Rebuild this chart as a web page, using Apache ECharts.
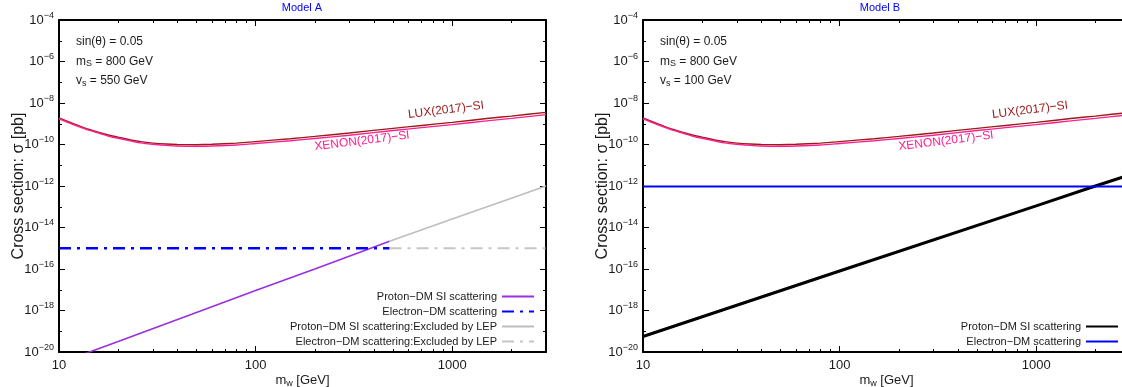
<!DOCTYPE html>
<html>
<head>
<meta charset="utf-8">
<script src="https://cdn.jsdelivr.net/npm/echarts@6/dist/echarts.min.js"></script>
<style>
  html, body { margin: 0; padding: 0; background: #fff; }
  #chart { width: 1122px; height: 387px; }
</style>
</head>
<body>
<div id="chart"></div>
<script>
const FONT = '"Liberation Sans", Arial, Helvetica, sans-serif';

// ---- direct-detection limits, mass in GeV, cross section in pb ----
const limitMass = [10, 11, 12, 13, 14, 16, 18, 20, 23, 26, 30, 35, 40, 50, 60, 80, 100, 150, 200, 300, 500, 700, 1000, 1500, 2000, 3000];
const luxSI   = [1.9e-9, 1.32e-9, 9.5e-10, 7.2e-10, 5.6e-10, 3.8e-10, 2.8e-10, 2.24e-10, 1.7e-10, 1.38e-10, 1.17e-10, 1.05e-10, 1.0e-10, 9.8e-11, 1.02e-10, 1.17e-10, 1.38e-10, 1.9e-10, 2.45e-10, 3.6e-10, 6.0e-10, 8.3e-10, 1.17e-9, 1.78e-9, 2.34e-9, 3.55e-9];
const xenonSI = [1.74e-9, 1.2e-9, 8.7e-10, 6.6e-10, 5.1e-10, 3.5e-10, 2.5e-10, 2.0e-10, 1.51e-10, 1.2e-10, 1.02e-10, 9.1e-11, 8.5e-11, 8.3e-11, 8.5e-11, 9.5e-11, 1.12e-10, 1.51e-10, 1.95e-10, 2.8e-10, 4.7e-10, 6.5e-10, 9.1e-10, 1.38e-9, 1.82e-9, 2.75e-9];

// ---- Model A ----
const protonMassA    = [10, 20, 50, 100, 200, 480];
const protonA        = [2.9e-21, 3.2e-20, 7.9e-19, 9.1e-18, 1.0e-16, 2.2e-15];
const protonMassA_LEP = [480, 1000, 2000, 3000];
const protonA_LEP     = [2.2e-15, 2.6e-14, 2.6e-13, 1.0e-12];
const electronMassA     = [10, 480];
const electronA         = [1.0e-15, 1.0e-15];
const electronMassA_LEP = [480, 3000];
const electronA_LEP     = [1.0e-15, 1.0e-15];

// ---- Model B ----
const protonMassB   = [10, 100, 1000, 2000, 3000];
const protonB       = [5.6e-20, 8.0e-17, 1.1e-13, 1.0e-12, 3.5e-12];
const electronMassB = [10, 3000];
const electronB     = [9.5e-13, 9.5e-13];

// ---- axes ----
const massRange   = [10, 3000];
const sigmaRange  = [1e-20, 1e-4];
const xMajorTicks = [10, 100, 1000];
const xTickLabels = ['10', '100', '1000'];
const xMinorTicks = [20, 30, 40, 50, 60, 70, 80, 90, 200, 300, 400, 500, 600, 700, 800, 900, 2000, 3000];

const panelTitles = ['Model A', 'Model B'];
const panelInfo = [
  ['sin(θ) = 0.05', 'm{s|S} = 800 GeV', 'v{s|s} = 550 GeV'],
  ['sin(θ) = 0.05', 'm{s|S} = 800 GeV', 'v{s|s} = 100 GeV']
];

const L = Math.log10;
const toXY = (mass, sigma) => mass.map((m, i) => [L(m), L(sigma[i])]);

const gridBoxes = [
  { left: 59, top: 20, width: 487, height: 332 },
  { left: 643, top: 20, width: 487, height: 332 }
];
const titleX = [302, 880];

const black = '#000';
const textCol = '#1a1a1a';

const xAxes = [];
const yAxes = [];
gridBoxes.forEach((g, gi) => {
  const base = {
    gridIndex: gi, type: 'value', min: L(massRange[0]), max: L(massRange[1]),
    splitLine: { show: false }
  };
  const majorTick = { show: true, inside: true, length: 6, customValues: xMajorTicks.map(L), lineStyle: { color: black, width: 1 } };
  const minorTick = { show: true, inside: true, length: 3, customValues: xMinorTicks.map(L), lineStyle: { color: black, width: 1 } };
  // bottom: major ticks, labels and axis name
  xAxes.push(Object.assign({}, base, {
    position: 'bottom',
    axisLine: { show: true, onZero: false, lineStyle: { color: black, width: 2 } },
    axisTick: majorTick,
    axisLabel: {
      customValues: xMajorTicks.map(L), margin: 7, fontSize: 13, color: textCol, fontFamily: FONT,
      formatter: v => xTickLabels[xMajorTicks.findIndex(t => Math.abs(L(t) - v) < 1e-6)]
    },
    name: '{b|m}{s|w}{b| [GeV]}', nameLocation: 'middle', nameGap: 20, nameMoveOverlap: false,
    nameTextStyle: {
      fontFamily: FONT, color: textCol,
      rich: {
        b: { fontSize: 13, fontFamily: FONT, color: textCol, lineHeight: 16 },
        s: { fontSize: 9, fontFamily: FONT, color: textCol, lineHeight: 8, verticalAlign: 'bottom' }
      }
    }
  }));
  // bottom: minor ticks
  xAxes.push(Object.assign({}, base, {
    position: 'bottom', axisLine: { show: false, onZero: false }, axisTick: minorTick, axisLabel: { show: false }
  }));
  // top mirror
  xAxes.push(Object.assign({}, base, {
    position: 'top', axisLine: { show: true, onZero: false, lineStyle: { color: black, width: 2 } },
    axisTick: majorTick, axisLabel: { show: false }
  }));
  xAxes.push(Object.assign({}, base, {
    position: 'top', axisLine: { show: false, onZero: false }, axisTick: minorTick, axisLabel: { show: false }
  }));

  const ybase = {
    gridIndex: gi, type: 'value', min: L(sigmaRange[0]), max: L(sigmaRange[1]), interval: 2,
    splitLine: { show: false },
    axisLine: { show: true, onZero: false, lineStyle: { color: black, width: 2 } },
    axisTick: { show: true, inside: true, length: 6, lineStyle: { color: black, width: 1 } },
    minorTick: { show: true, splitNumber: 2, length: 3, lineStyle: { color: black, width: 1 } },
    minorSplitLine: { show: false }
  };
  yAxes.push(Object.assign({}, ybase, {
    position: 'left',
    axisLabel: {
      margin: 5, color: textCol, fontFamily: FONT,
      formatter: v => '{b|10}{p|−' + Math.abs(Math.round(v)) + '}',
      rich: {
        b: { fontSize: 13, fontFamily: FONT, color: textCol, lineHeight: 18 },
        p: { fontSize: 9, fontFamily: FONT, color: textCol, lineHeight: 9, verticalAlign: 'top' }
      }
    },
    name: 'Cross section: σ [pb]', nameLocation: 'middle', nameGap: 32, nameRotate: 90, nameMoveOverlap: false,
    nameTextStyle: { fontSize: 16, fontFamily: FONT, color: textCol }
  }));
  yAxes.push(Object.assign({}, ybase, { position: 'right', axisLabel: { show: false } }));
});

const lineSeries = (name, gi, mass, sigma, style, extra) => Object.assign({
  name, type: 'line', xAxisIndex: gi * 4, yAxisIndex: gi * 2,
  data: toXY(mass, sigma), symbol: 'none', showSymbol: false, clip: true, silent: true,
  lineStyle: style, itemStyle: { color: style.color }
}, extra || {});

const luxColor = '#9b1b1b';
const xenonColor = '#ff1f8f';
const series = [];
[0, 1].forEach(gi => {
  series.push(lineSeries('LUX(2017)−SI' + (gi ? ' B' : ''), gi, limitMass, luxSI,
    { color: luxColor, width: 1.4 }, { smooth: 0.2 }));
  series.push(lineSeries('XENON(2017)−SI' + (gi ? ' B' : ''), gi, limitMass, xenonSI,
    { color: xenonColor, width: 1.4 }, { smooth: 0.2 }));
});

// Model A
series.push(lineSeries('Proton−DM SI scattering', 0, protonMassA, protonA,
  { color: '#9a2ee0', width: 1.6 }));
series.push(lineSeries('Electron−DM scattering', 0, electronMassA, electronA,
  { color: '#0000ff', width: 2.6, type: [12, 6, 3, 6] }));
series.push(lineSeries('Proton−DM SI scattering:Excluded by LEP', 0, protonMassA_LEP, protonA_LEP,
  { color: '#bdbdbd', width: 1.6 }));
series.push(lineSeries('Electron−DM scattering:Excluded by LEP', 0, electronMassA_LEP, electronA_LEP,
  { color: '#c6c6c6', width: 2.2, type: [12, 6, 3, 6] }));

// Model B
series.push(lineSeries('Proton−DM SI scattering (Model B)', 1, protonMassB, protonB,
  { color: '#000000', width: 3 }));
series.push(lineSeries('Electron−DM scattering (Model B)', 1, electronMassB, electronB,
  { color: '#0000ff', width: 2 }));

const legendCommon = {
  orient: 'vertical', align: 'right', padding: 0, itemWidth: 32, itemHeight: 12, itemGap: 4,
  selectedMode: false, itemStyle: { opacity: 0 },
  textStyle: { fontSize: 11, fontFamily: FONT, color: textCol },
  formatter: n => n.replace(' (Model B)', '')
};

const graphic = [];
gridBoxes.forEach((g, gi) => {
  graphic.push({
    type: 'text', x: titleX[gi], y: 8, silent: true,
    style: { text: panelTitles[gi], align: 'center', verticalAlign: 'middle', fill: '#0000ff', font: '11px ' + FONT }
  });
  panelInfo[gi].forEach((t, k) => {
    graphic.push({
      type: 'text', x: g.left + 17, y: 42 + k * 19.5, silent: true,
      style: {
        text: t, align: 'left', verticalAlign: 'middle', fill: textCol,
        font: '12px ' + FONT,
        rich: {
          s: { fontSize: 9, fontFamily: FONT, fill: textCol, lineHeight: 6, verticalAlign: 'bottom' }
        },
        lineHeight: 14
      }
    });
  });
  graphic.push({
    type: 'text', x: g.left + 387, y: 110, rotation: 7 * Math.PI / 180, silent: true,
    style: { text: 'LUX(2017)−SI', align: 'center', verticalAlign: 'middle', fill: luxColor, font: '12px ' + FONT }
  });
  graphic.push({
    type: 'text', x: g.left + 303, y: 141, rotation: 7 * Math.PI / 180, silent: true,
    style: { text: 'XENON(2017)−SI', align: 'center', verticalAlign: 'middle', fill: xenonColor, font: '12px ' + FONT }
  });
});

const chart = echarts.init(document.getElementById('chart'), null, { renderer: 'canvas' });
chart.setOption({
  animation: false,
  backgroundColor: '#fff',
  grid: gridBoxes.map(g => Object.assign({ outerBoundsMode: 'none', containLabel: false }, g)),
  xAxis: xAxes,
  yAxis: yAxes,
  legend: [
    Object.assign({}, legendCommon, {
      data: ['Proton−DM SI scattering', 'Electron−DM scattering',
             'Proton−DM SI scattering:Excluded by LEP', 'Electron−DM scattering:Excluded by LEP'],
      right: 1122 - 535, bottom: 40
    }),
    Object.assign({}, legendCommon, {
      data: ['Proton−DM SI scattering (Model B)', 'Electron−DM scattering (Model B)'],
      right: 3, bottom: 40
    })
  ],
  series,
  graphic
});
</script>
</body>
</html>
